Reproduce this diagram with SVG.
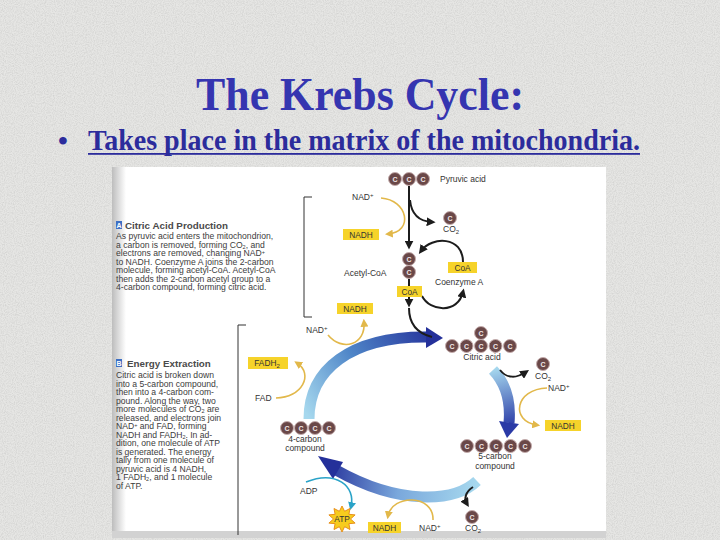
<svg xmlns="http://www.w3.org/2000/svg" width="720" height="540" viewBox="0 0 720 540">
<style>
.ti{font-family:"Liberation Serif","Times New Roman",serif;font-weight:bold;fill:#3535b0}
.bu{font-family:"Liberation Serif","Times New Roman",serif;font-weight:bold;fill:#2c2c9c}
.bd{font-family:"Liberation Sans",Arial,sans-serif;font-size:8.6px;fill:#3c3c3c}
.hd{font-family:"Liberation Sans",Arial,sans-serif;font-size:9.8px;font-weight:bold;fill:#4a4a4a}
.lb{font-family:"Liberation Sans",Arial,sans-serif;font-size:8.5px;fill:#333}
.ic{fill:#3d6fc4}
.ict{font-family:"Liberation Sans",Arial,sans-serif;font-size:7px;font-weight:bold;fill:#fff}
.cc{fill:#6a4848;stroke:#c4acac;stroke-width:1}
.ct{font-family:"Liberation Sans",Arial,sans-serif;font-size:7px;font-weight:bold;fill:#f2e8e8;text-anchor:middle}
.yb{fill:#f6d32a}
.bt{font-family:"Liberation Sans",Arial,sans-serif;font-size:8.3px;fill:#333;text-anchor:middle}
.bk{fill:none;stroke:#1c1c1c;stroke-width:2}
.ye{fill:none;stroke:#e2b84a;stroke-width:1.6}
.te{fill:none;stroke:#2aa3c8;stroke-width:1.6}
.br{fill:none;stroke:#333;stroke-width:1}
.mid{text-anchor:middle}
.sb{font-size:5.5px}
</style>
<defs>
<filter id="tex" x="0" y="0" width="1" height="1">
<feTurbulence type="fractalNoise" baseFrequency="0.9" numOctaves="2" seed="4"/>
<feColorMatrix values="0 0 0 0 0.55  0 0 0 0 0.55  0 0 0 0 0.54  1.1 0 0 0 -0.4"/>
</filter>
<linearGradient id="shadeL" x1="0" y1="0" x2="1" y2="0">
<stop offset="0" stop-color="#bdbdbd"/><stop offset="1" stop-color="#ffffff"/>
</linearGradient>
<linearGradient id="gL" gradientUnits="userSpaceOnUse" x1="309" y1="418" x2="440" y2="337">
<stop offset="0" stop-color="#a6d8ee"/><stop offset="0.45" stop-color="#4f86c8"/><stop offset="1" stop-color="#24309a"/>
</linearGradient>
<linearGradient id="gR" gradientUnits="userSpaceOnUse" x1="493" y1="369" x2="508" y2="428">
<stop offset="0" stop-color="#a6d8ee"/><stop offset="1" stop-color="#2a3aa6"/>
</linearGradient>
<linearGradient id="gB" gradientUnits="userSpaceOnUse" x1="477" y1="481" x2="325" y2="460">
<stop offset="0" stop-color="#a6d8ee"/><stop offset="0.5" stop-color="#7aa8dc"/><stop offset="1" stop-color="#24309a"/>
</linearGradient>
<marker id="ab" viewBox="0 0 10 10" refX="6" refY="5" markerWidth="4.5" markerHeight="4.5" orient="auto"><path d="M0,0 L10,5 L0,10 Z" fill="#1c1c1c"/></marker>
<marker id="ay" viewBox="0 0 10 10" refX="6" refY="5" markerWidth="5" markerHeight="5" orient="auto"><path d="M0,0 L10,5 L0,10 Z" fill="#e2b84a"/></marker>
<marker id="at" viewBox="0 0 10 10" refX="6" refY="5" markerWidth="5" markerHeight="5" orient="auto"><path d="M0,0 L10,5 L0,10 Z" fill="#2aa3c8"/></marker>
</defs>

<!-- slide background -->
<rect width="720" height="540" fill="#e6e6e4"/>
<rect width="720" height="540" filter="url(#tex)"/>

<g id="title">
<text class="ti" x="360" y="110" font-size="46" text-anchor="middle" textLength="328" lengthAdjust="spacingAndGlyphs">The Krebs Cycle:</text>
</g>
<g id="bullet">
<text class="bu" x="58" y="150" font-size="28">•</text>
<text class="bu" x="88" y="150" font-size="29" textLength="552" lengthAdjust="spacingAndGlyphs">Takes place in the matrix of the mitochondria.</text>
<rect x="88" y="153" width="552" height="1.8" fill="#2c2c9c"/>
</g>

<!-- picture -->
<g id="picture">
<rect x="112" y="167" width="494" height="371" fill="#ffffff"/>
<rect x="112" y="167" width="14" height="371" fill="url(#shadeL)"/>
<rect x="112" y="531" width="494" height="7" fill="#d2d2d2"/>
</g>

<g id="textA">
<rect class="ic" x="116" y="221" width="6" height="8"/>
<text class="ict" x="119" y="228" text-anchor="middle">A</text>
<text class="hd" x="125" y="229">Citric Acid Production</text>
<text class="bd" x="116" y="239">As pyruvic acid enters the mitochondrion,</text>
<text class="bd" x="116" y="247.5">a carbon is removed, forming CO<tspan class="sb" dy="1">2</tspan><tspan dy="-1">, and</tspan></text>
<text class="bd" x="116" y="256">electrons are removed, changing NAD<tspan class="sb" dy="-2">+</tspan></text>
<text class="bd" x="116" y="264.5">to NADH. Coenzyme A joins the 2-carbon</text>
<text class="bd" x="116" y="273">molecule, forming acetyl-CoA. Acetyl-CoA</text>
<text class="bd" x="116" y="281.5">then adds the 2-carbon acetyl group to a</text>
<text class="bd" x="116" y="290">4-carbon compound, forming citric acid.</text>
</g>

<g id="textB">
<rect class="ic" x="116" y="359" width="6" height="8"/>
<text class="ict" x="119" y="366" text-anchor="middle">B</text>
<text class="hd" x="127" y="367">Energy Extraction</text>
<text class="bd" x="116" y="378">Citric acid is broken down</text>
<text class="bd" x="116" y="386.5">into a 5-carbon compound,</text>
<text class="bd" x="116" y="395">then into a 4-carbon com-</text>
<text class="bd" x="116" y="403.5">pound. Along the way, two</text>
<text class="bd" x="116" y="412">more molecules of CO<tspan class="sb" dy="1">2</tspan><tspan dy="-1"> are</tspan></text>
<text class="bd" x="116" y="420.5">released, and electrons join</text>
<text class="bd" x="116" y="429">NAD<tspan class="sb" dy="-2">+</tspan><tspan dy="2"> and FAD, forming</tspan></text>
<text class="bd" x="116" y="437.5">NADH and FADH<tspan class="sb" dy="1">2</tspan><tspan dy="-1">. In ad-</tspan></text>
<text class="bd" x="116" y="446">dition, one molecule of ATP</text>
<text class="bd" x="116" y="454.5">is generated. The energy</text>
<text class="bd" x="116" y="463">tally from one molecule of</text>
<text class="bd" x="116" y="471.5">pyruvic acid is 4 NADH,</text>
<text class="bd" x="116" y="480">1 FADH<tspan class="sb" dy="1">2</tspan><tspan dy="-1">, and 1 molecule</tspan></text>
<text class="bd" x="116" y="488.5">of ATP.</text>
</g>

<g id="brackets">
<path class="br" d="M312,197 H304 V317 H312"/>
<path class="br" d="M246,325 H238 V535"/>
</g>

<!-- connectors -->
<g id="connectors">
<!-- blue cycle arcs -->
<path d="M309,419 C309,370 350,336 428,337" fill="none" stroke="url(#gL)" stroke-width="11"/>
<polygon points="426,327 443,338 426,348" fill="#24309a"/>
<path d="M493,370 Q512,390 509,423" fill="none" stroke="url(#gR)" stroke-width="11"/>
<polygon points="499,421 519,424 507,438" fill="#2a3aa6"/>
<path d="M477,481 C455,502 400,506 336,470" fill="none" stroke="url(#gB)" stroke-width="11"/>
<polygon points="343,462 333,479 318,456" fill="#24309a"/>
<!-- black arrows -->
<path class="bk" d="M409,186 V246" marker-end="url(#ab)"/>
<path class="bk" d="M410,200 Q412,221 432,222" marker-end="url(#ab)"/>
<path class="bk" d="M463,262 C463,236 432,236 421,251" marker-end="url(#ab)"/>
<path class="bk" d="M409,278 V304" marker-end="url(#ab)"/>
<path class="bk" d="M409,308 C409,326 420,334 432,337"/>
<path class="bk" d="M422,296 C430,312 458,314 463,292" marker-end="url(#ab)"/>
<path class="bk" d="M500,370 C507,379 517,378 526,372" marker-end="url(#ab)"/>
<path class="bk" d="M473,487 C465,492 464,499 467,504" marker-end="url(#ab)"/>
<!-- yellow electron carriers -->
<path class="ye" d="M381,198 C408,200 414,232 388,234" marker-end="url(#ay)"/>
<path class="ye" d="M328,335 C342,352 366,345 364,322" marker-end="url(#ay)"/>
<path class="ye" d="M276,398 C302,398 314,374 297,363" marker-end="url(#ay)"/>
<path class="ye" d="M547,388 C515,389 510,421 537,425" marker-end="url(#ay)"/>
<path class="ye" d="M433,520 C434,494 392,494 388,516" marker-end="url(#ay)"/>
<!-- ADP to ATP -->
<path class="te" d="M306,482 C336,470 356,486 351,507" marker-end="url(#at)"/>
</g>

<g id="pyruvic">
<circle class="cc" cx="395" cy="179" r="6.5"/><text class="ct" x="395" y="181.5">C</text>
<circle class="cc" cx="409" cy="179" r="6.5"/><text class="ct" x="409" y="181.5">C</text>
<circle class="cc" cx="423" cy="179" r="6.5"/><text class="ct" x="423" y="181.5">C</text>
<text class="lb" x="440" y="182">Pyruvic acid</text>
</g>

<g id="nad1"><text class="lb" x="352" y="200">NAD<tspan font-size="6" dy="-3">+</tspan></text></g>
<g id="nadh1"><rect class="yb" x="343" y="229" width="36" height="11"/><text class="bt" x="361" y="237.5">NADH</text></g>

<g id="co2a">
<circle class="cc" cx="450" cy="218" r="6.5"/><text class="ct" x="450" y="220.5">C</text>
<text class="lb" x="443" y="232">CO<tspan font-size="6" dy="2">2</tspan></text>
</g>

<g id="acetyl">
<circle class="cc" cx="409" cy="259" r="6.5"/><text class="ct" x="409" y="261.5">C</text>
<circle class="cc" cx="409" cy="272" r="6.5"/><text class="ct" x="409" y="274.5">C</text>
<text class="lb" x="344" y="276">Acetyl-CoA</text>
</g>

<g id="coa1"><rect class="yb" x="448" y="262" width="29" height="11"/><text class="bt" x="462.5" y="270.5">CoA</text></g>
<g id="coenzA"><text class="lb" x="435" y="285">Coenzyme A</text></g>
<g id="coa2"><rect class="yb" x="397" y="286" width="25" height="11"/><text class="bt" x="409.5" y="294.5">CoA</text></g>

<g id="nadh2"><rect class="yb" x="337" y="303" width="36" height="11"/><text class="bt" x="355" y="311.5">NADH</text></g>
<g id="nad2"><text class="lb" x="306" y="333">NAD<tspan font-size="6" dy="-3">+</tspan></text></g>

<g id="fadh2"><rect class="yb" x="248" y="357" width="40" height="12"/><text class="bt" x="267" y="366">FADH<tspan font-size="6" dy="2">2</tspan></text></g>
<g id="fad"><text class="lb" x="255" y="401">FAD</text></g>

<g id="citric">
<circle class="cc" cx="481" cy="333" r="6.5"/><text class="ct" x="481" y="335.5">C</text>
<circle class="cc" cx="452" cy="346" r="6.5"/><text class="ct" x="452" y="348.5">C</text>
<circle class="cc" cx="466.5" cy="346" r="6.5"/><text class="ct" x="466.5" y="348.5">C</text>
<circle class="cc" cx="481" cy="346" r="6.5"/><text class="ct" x="481" y="348.5">C</text>
<circle class="cc" cx="495.5" cy="346" r="6.5"/><text class="ct" x="495.5" y="348.5">C</text>
<circle class="cc" cx="510" cy="346" r="6.5"/><text class="ct" x="510" y="348.5">C</text>
<text class="lb mid" x="482" y="360">Citric acid</text>
</g>

<g id="co2b">
<circle class="cc" cx="543" cy="364" r="6.5"/><text class="ct" x="543" y="366.5">C</text>
<text class="lb" x="535" y="379">CO<tspan font-size="6" dy="2">2</tspan></text>
</g>
<g id="nad3"><text class="lb" x="548" y="391">NAD<tspan font-size="6" dy="-3">+</tspan></text></g>
<g id="nadh3"><rect class="yb" x="545" y="420" width="36" height="11"/><text class="bt" x="563" y="428.5">NADH</text></g>

<g id="fivec">
<circle class="cc" cx="467" cy="446" r="6.5"/><text class="ct" x="467" y="448.5">C</text>
<circle class="cc" cx="481.5" cy="446" r="6.5"/><text class="ct" x="481.5" y="448.5">C</text>
<circle class="cc" cx="496" cy="446" r="6.5"/><text class="ct" x="496" y="448.5">C</text>
<circle class="cc" cx="510.5" cy="446" r="6.5"/><text class="ct" x="510.5" y="448.5">C</text>
<circle class="cc" cx="525" cy="446" r="6.5"/><text class="ct" x="525" y="448.5">C</text>
<text class="lb mid" x="495" y="459">5-carbon</text>
<text class="lb mid" x="495" y="469">compound</text>
</g>

<g id="co2c">
<circle class="cc" cx="472" cy="517" r="6.5"/><text class="ct" x="472" y="519.5">C</text>
<text class="lb" x="465" y="531">CO<tspan font-size="6" dy="2">2</tspan></text>
</g>
<g id="nad4"><text class="lb" x="419" y="531">NAD<tspan font-size="6" dy="-3">+</tspan></text></g>
<g id="nadh4"><rect class="yb" x="368" y="522" width="33" height="11"/><text class="bt" x="384.5" y="530.5">NADH</text></g>

<g id="atp">
<polygon points="342,506 344.6,511.3 350,508.5 348.9,514.3 355.1,514.9 350.5,519 355.1,523.1 348.9,523.7 350,529.5 344.6,526.7 342,532 339.4,526.7 334,529.5 335.1,523.7 328.9,523.1 333.5,519 328.9,514.9 335.1,514.3 334,508.5 339.4,511.3" fill="#f7cc1e" stroke="#e8901c" stroke-width="1"/>
<text class="bt" x="342" y="522" font-size="7">ATP</text>
</g>
<g id="adp"><text class="lb" x="300" y="494">ADP</text></g>

<g id="fourc">
<circle class="cc" cx="287" cy="428" r="6.5"/><text class="ct" x="287" y="430.5">C</text>
<circle class="cc" cx="301" cy="428" r="6.5"/><text class="ct" x="301" y="430.5">C</text>
<circle class="cc" cx="315" cy="428" r="6.5"/><text class="ct" x="315" y="430.5">C</text>
<circle class="cc" cx="329" cy="428" r="6.5"/><text class="ct" x="329" y="430.5">C</text>
<text class="lb mid" x="305" y="442">4-carbon</text>
<text class="lb mid" x="305" y="451">compound</text>
</g>
</svg>
